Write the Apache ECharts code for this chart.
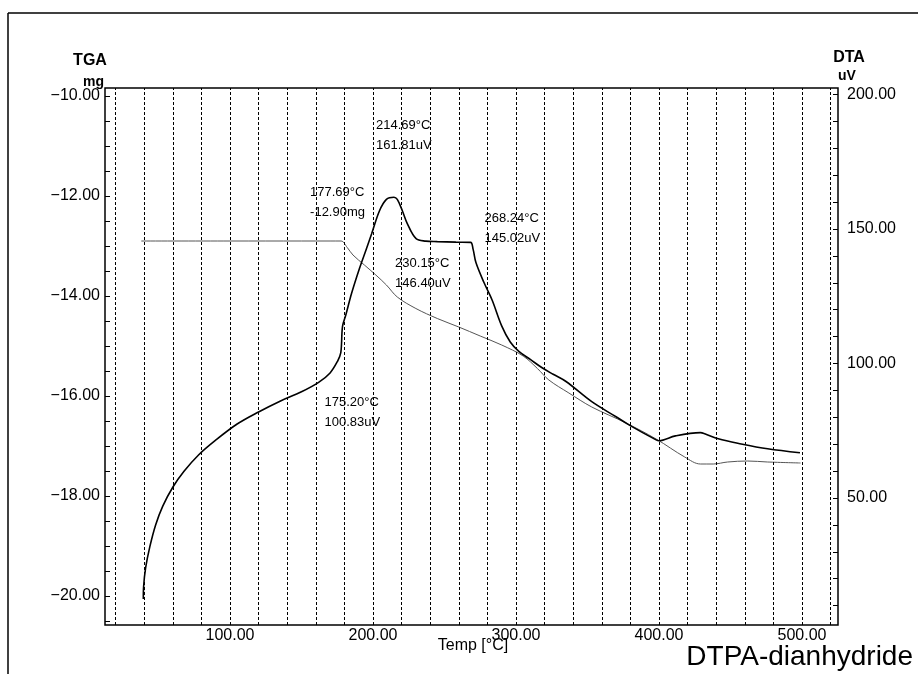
<!DOCTYPE html>
<html>
<head>
<meta charset="utf-8">
<title>DTPA-dianhydride TGA/DTA</title>
<script src="https://cdn.jsdelivr.net/npm/echarts@6/dist/echarts.min.js"></script>
<style>
  html, body { margin: 0; padding: 0; background: #fff; }
  #chart { width: 918px; height: 674px; }
</style>
</head>
<body>
<div id="chart"></div>
<script>
// DTA trace: temperature (°C) and signal (uV)
const dtaTemp = [39.4, 39.6, 41, 44, 48, 53, 60, 68, 78, 90, 105, 120, 135, 150, 162, 170, 175.2, 177.5, 178.7, 181, 185, 190.6, 195, 199, 204.5, 209.4, 214.69, 217, 220.6, 224, 230.15, 237, 245, 258, 268.24, 270, 272, 277.7, 283.3, 290, 296, 302, 310, 318, 326, 335, 353, 370, 379, 398, 400, 411.5, 429, 432, 441.5, 457.5, 476, 498.6];
const dtaSignal = [12.5, 17, 24, 32, 40, 47, 54, 60, 66, 71.5, 77.5, 82, 86, 89.5, 93, 96.5, 100.83, 104, 113.8, 118, 126, 135.4, 142, 148.1, 156.7, 161, 161.81, 161, 156.7, 152, 146.4, 145.5, 145.3, 145.1, 145.02, 142.5, 137.5, 130, 123.6, 114, 108, 104.5, 101.5, 98.5, 96, 93.3, 85.8, 80.2, 77.2, 71.6, 71.3, 73.1, 74.3, 73.9, 72, 70.1, 68.3, 66.8];

// TGA trace: temperature (°C) and mass (mg)
const tgaTemp = [38, 100, 150, 170, 177.69, 182, 186, 194, 202, 209.4, 217, 230, 245, 260, 275, 290, 305, 315, 323, 337, 353, 377, 398, 418, 429, 438, 448, 462, 476, 499];
const tgaMass = [-12.9, -12.9, -12.9, -12.9, -12.9, -13.03, -13.18, -13.38, -13.58, -13.78, -14.02, -14.25, -14.45, -14.62, -14.8, -14.98, -15.2, -15.45, -15.68, -15.94, -16.22, -16.54, -16.86, -17.22, -17.36, -17.36, -17.32, -17.3, -17.32, -17.34];

// Axis ticks and labels
const tempLabels = [100, 200, 300, 400, 500];
const tempGrid = [20, 40, 60, 80, 100, 120, 140, 160, 180, 200, 220, 240, 260, 280, 300, 320, 340, 360, 380, 400, 420, 440, 460, 480, 500, 520];
const tgaLabels = [-20, -18, -16, -14, -12, -10];
const tgaTicks = [-20.5, -20, -19.5, -19, -18.5, -18, -17.5, -17, -16.5, -16, -15.5, -15, -14.5, -14, -13.5, -13, -12.5, -12, -11.5, -11, -10.5, -10];
const dtaLabels = [50, 100, 150, 200];
const dtaTicks = [10, 20, 30, 40, 50, 60, 70, 80, 90, 100, 110, 120, 130, 140, 150, 160, 170, 180, 190, 200];

// Annotated points: [temperature, value, first line, second line, label offset]
const dtaNotes = [
  [214.69, 161.81, '214.69°C', '161.81uV', [-18, -82]],
  [268.24, 145.02, '268.24°C', '145.02uV', [14, -34]],
  [230.15, 146.40, '230.15°C', '146.40uV', [-21, 15]],
  [175.20, 100.83, '175.20°C', '100.83uV', [-13, 31]]
];
const tgaNotes = [
  [177.69, -12.90, '177.69°C', '-12.90mg', [-31, -59]]
];

const FONT = '"Liberation Sans", Arial, sans-serif';

function pairs(xs, ys) { return xs.map((x, i) => [x, ys[i]]); }
function fmtNum(v) { return (v < 0 ? '\u2212' : '') + Math.abs(v).toFixed(2); }
function notePoints(notes) {
  return notes.map(n => ({
    coord: [n[0], n[1]],
    label: {
      show: true,
      position: 'inside',
      align: 'left',
      verticalAlign: 'top',
      offset: n[4],
      formatter: n[2] + '\n' + n[3],
      fontFamily: FONT,
      fontSize: 13,
      lineHeight: 20,
      color: '#000'
    }
  }));
}

const chart = echarts.init(document.getElementById('chart'), null, { renderer: 'canvas' });

chart.setOption({
  backgroundColor: '#fff',
  animation: false,
  title: {
    text: 'DTPA-dianhydride',
    right: 5,
    top: 643,
    padding: 0,
    textStyle: { fontFamily: FONT, fontSize: 28, fontWeight: 'normal', color: '#000' }
  },
  grid: {
    left: 105, right: 80, top: 88, bottom: 49,
    show: true, borderColor: '#000', borderWidth: 1.5, backgroundColor: 'transparent'
  },
  xAxis: {
    type: 'value',
    min: 12.6,
    max: 525.2,
    axisLine: { show: false },
    axisTick: { show: false },
    splitLine: { show: false },
    axisLabel: {
      customValues: tempLabels,
      formatter: v => v.toFixed(2),
      fontFamily: FONT, fontSize: 16, color: '#000', margin: 3
    }
  },
  yAxis: [
    {
      type: 'value',
      min: -20.58,
      max: -9.84,
      axisLine: { show: false },
      splitLine: { show: false },
      axisTick: { show: true, customValues: tgaTicks, inside: true, length: 5, lineStyle: { color: '#000', width: 1 } },
      axisLabel: {
        customValues: tgaLabels,
        formatter: fmtNum,
        fontFamily: FONT, fontSize: 16, color: '#000', margin: 5
      }
    },
    {
      type: 'value',
      position: 'right',
      min: 2.8,
      max: 202.4,
      axisLine: { show: false },
      splitLine: { show: false },
      axisTick: { show: true, customValues: dtaTicks, inside: true, length: 5, lineStyle: { color: '#000', width: 1 } },
      axisLabel: {
        customValues: dtaLabels,
        formatter: fmtNum,
        fontFamily: FONT, fontSize: 16, color: '#000', margin: 9
      }
    }
  ],
  series: [
    {
      name: 'TGA',
      type: 'line',
      yAxisIndex: 0,
      data: pairs(tgaTemp, tgaMass),
      showSymbol: false,
      smooth: 0.35,
      lineStyle: { color: '#555', width: 1 },
      z: 3,
      markLine: {
        silent: true,
        symbol: 'none',
        label: { show: false },
        lineStyle: { color: '#000', width: 1, type: [3, 2] },
        data: tempGrid.map(t => ({ xAxis: t }))
      },
      markPoint: {
        symbol: 'circle',
        symbolSize: 1,
        itemStyle: { color: 'rgba(0,0,0,0)' },
        data: notePoints(tgaNotes)
      }
    },
    {
      name: 'DTA',
      type: 'line',
      yAxisIndex: 1,
      data: pairs(dtaTemp, dtaSignal),
      showSymbol: false,
      smooth: 0.35,
      lineStyle: { color: '#000', width: 1.6 },
      z: 4,
      markPoint: {
        symbol: 'circle',
        symbolSize: 1,
        itemStyle: { color: 'rgba(0,0,0,0)' },
        data: notePoints(dtaNotes)
      }
    }
  ],
  graphic: [
    { type: 'line', shape: { x1: 8, y1: 13, x2: 918, y2: 13 }, style: { stroke: '#000', lineWidth: 1.5 } },
    { type: 'line', shape: { x1: 8, y1: 13, x2: 8, y2: 674 }, style: { stroke: '#000', lineWidth: 1.5 } },
    { type: 'text', style: { text: 'TGA', x: 90, y: 61, align: 'center', verticalAlign: 'middle', font: 'bold 16px ' + FONT, fill: '#000' } },
    { type: 'text', style: { text: 'mg', x: 104, y: 82, align: 'right', verticalAlign: 'middle', font: 'bold 14px ' + FONT, fill: '#000' } },
    { type: 'text', style: { text: 'DTA', x: 849, y: 58, align: 'center', verticalAlign: 'middle', font: 'bold 16px ' + FONT, fill: '#000' } },
    { type: 'text', style: { text: 'uV', x: 838, y: 76, align: 'left', verticalAlign: 'middle', font: 'bold 14px ' + FONT, fill: '#000' } },
    { type: 'text', style: { text: 'Temp [°C]', x: 473, y: 646, align: 'center', verticalAlign: 'middle', font: '16px ' + FONT, fill: '#000' } }
  ]
});
</script>
</body>
</html>
